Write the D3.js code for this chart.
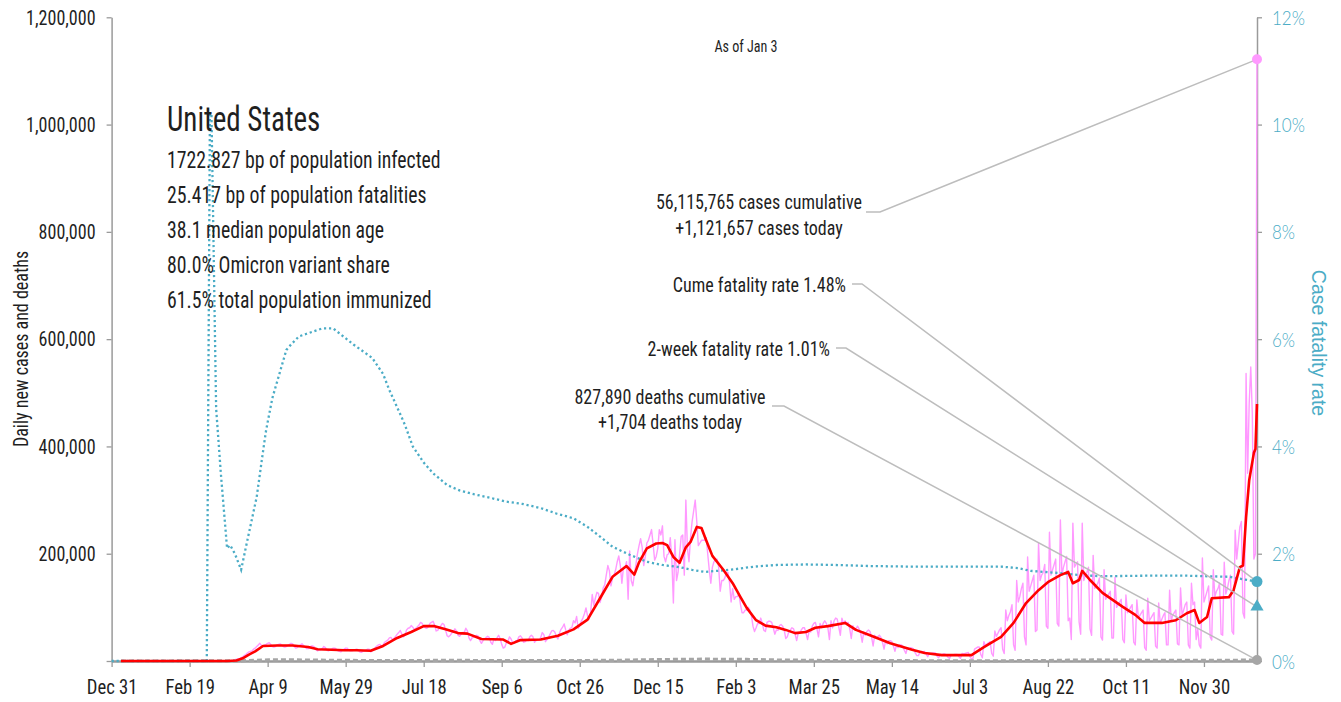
<!DOCTYPE html>
<html>
<head>
<meta charset="utf-8">
<title>United States - daily new cases</title>
<script src="https://cdn.jsdelivr.net/npm/d3@7/dist/d3.min.js"></script>
<style>
    body { margin: 0; background: #fff; }
    svg text { font-family: "Liberation Sans Narrow", "Roboto Condensed", "Roboto", sans-serif; fill: #1f1f1f; }
    .axis path, .axis line { stroke: #9a9a9a; }
    .axis.rate text { font-family: "Lato", "Open Sans", sans-serif; font-weight: 300; fill: #4bacc6; }
    .leader { fill: none; stroke: #bdbdbd; stroke-width: 1.5; }
</style>
</head>
<body>
<div id="graph"></div>
<script>
// daily new cases, thousands, one value per day from casesStart
var casesStart = "2020-03-01";
var cases2020 = [
    0.02, 0.02, 0.03, 0.03, 0.06, 0.1, 0.1, 0.1, 0.2, 0.3, 0.3, 0.4, 0.5, 0.5, 0.5, 0.7, 1.0, 1.5, 2.5, 3.5, 4, 4, 6, 8, 10, 12, 15, 17, 18, 19, 22, // mar
    24, 27, 30, 33, 29, 28, 30, 31, 33, 34, 31, 27, 26, 27, 30, 31, 32, 30, 27, 26, 27, 29, 31, 33, 32, 27, 24, 25, 28, 30, // apr
    32, 29, 26, 23, 23, 25, 28, 28, 26, 21, 19, 21, 21, 23, 27, 25, 20, 19, 21, 22, 24, 24, 22, 19, 18, 17, 20, 22, 24, 24, 20, // may
    19, 19, 20, 21, 22, 21, 17, 16, 18, 19, 20, 22, 22, 17, 19, 22, 25, 28, 30, 31, 26, 30, 35, 37, 39, 43, 44, 40, 42, 46, // jun
    50, 53, 57, 50, 45, 48, 58, 61, 62, 66, 63, 59, 61, 64, 67, 72, 70, 64, 62, 61, 64, 70, 72, 74, 67, 56, 57, 62, 66, 70, 68, // jul
    58, 47, 45, 48, 52, 55, 60, 56, 48, 46, 50, 53, 53, 61, 56, 43, 38, 43, 45, 46, 48, 46, 38, 33, 38, 41, 44, 46, 44, 35, 31, // aug
    41, 38, 43, 48, 42, 31, 24, 26, 34, 37, 45, 41, 34, 33, 38, 38, 45, 47, 43, 35, 36, 39, 38, 45, 48, 45, 35, 38, 40, 39, // sep
    44, 53, 49, 36, 40, 44, 50, 56, 57, 54, 46, 41, 52, 59, 63, 69, 58, 49, 58, 61, 63, 75, 71, 83, 61, 66, 74, 80, 88, 99, 84, // oct
    78, 91, 124, 104, 117, 128, 126, 109, 119, 136, 142, 160, 178, 168, 140, 155, 160, 170, 185, 196, 178, 145, 175, 175, 185, 115, 205, 150, 140, 162, // nov
    180, 200, 215, 228, 212, 178, 195, 220, 225, 235, 245, 218, 188, 195, 210, 245, 235, 252, 195, 185, 198, 200, 230, 190, 108, 226, 150, 165, 200, 232, 235 // dec
];
var cases2021 = [
    160, 300, 210, 185, 230, 260, 280, 300, 260, 215, 220, 225, 225, 225, 230, 200, 170, 145, 175, 185, 190, 190, 175, 130, 150, 150, 155, 165, 165, 145, 110, // jan
    135, 115, 120, 120, 125, 105, 90, 90, 95, 95, 100, 95, 85, 65, 55, 62, 70, 70, 80, 70, 57, 55, 72, 74, 74, 72, 62, 50, // feb
    58, 57, 66, 68, 65, 58, 42, 45, 55, 58, 62, 60, 50, 38, 52, 52, 58, 62, 62, 52, 40, 56, 54, 65, 70, 72, 60, 45, 70, 62, 70, // mar
    75, 70, 62, 40, 75, 62, 75, 80, 78, 63, 48, 80, 70, 75, 70, 72, 60, 42, 66, 58, 60, 65, 60, 52, 35, 54, 48, 55, 58, 55, // apr
    45, 28, 48, 42, 45, 48, 44, 35, 22, 38, 32, 38, 38, 36, 28, 18, 30, 25, 30, 30, 28, 20, 14, 25, 22, 25, 24, 22, 15, 10, 10, // may
    16, 18, 17, 18, 13, 8, 14, 14, 15, 15, 15, 9, 6, 12, 12, 13, 13, 11, 7, 5, 11, 11, 12, 12, 12, 8, 5, 14, 13, 14, // jun
    15, 16, 8, 4, 5, 22, 24, 26, 26, 12, 6, 36, 28, 32, 34, 36, 14, 9, 56, 46, 52, 58, 62, 22, 14, 95, 75, 85, 92, 105, 30, // jul
    20, 150, 110, 120, 135, 145, 45, 30, 194, 130, 140, 150, 160, 55, 58, 220, 150, 160, 165, 180, 65, 61, 240, 160, 170, 180, 190, 70, 65, 263, 160, // aug
    175, 185, 195, 75, 80, 40, 257, 175, 180, 185, 73, 50, 257, 150, 160, 165, 175, 60, 48, 197, 135, 140, 145, 155, 45, 39, 170, 115, 120, 125, // sep
    130, 43, 43, 156, 100, 105, 110, 115, 40, 34, 123, 90, 95, 100, 105, 35, 30, 114, 80, 85, 90, 95, 25, 20, 117, 75, 80, 85, 90, 28, 24, // oct
    108, 70, 78, 85, 90, 30, 30, 132, 75, 85, 90, 95, 32, 30, 136, 85, 95, 105, 110, 30, 24, 145, 105, 110, 40, 60, 30, 24, 192, 110, // nov
    120, 130, 140, 45, 39, 170, 120, 130, 135, 145, 50, 48, 184, 125, 135, 150, 160, 55, 50, 244, 190, 220, 250, 260, 90, 80, 536, 350, 480, 548, 460 // dec
];
var cases2022 = [190, 200, 1121.657];

// 7-day average of new cases, thousands
var avgCases = [
    ["2020-01-06", 0], ["2020-03-14", 0], ["2020-03-20", 1], ["2020-03-24", 5], ["2020-03-28", 12],
    ["2020-04-01", 18], ["2020-04-06", 28], ["2020-04-15", 29], ["2020-04-25", 29], ["2020-05-05", 26],
    ["2020-05-11", 22], ["2020-05-20", 21], ["2020-05-28", 20], ["2020-06-05", 20], ["2020-06-14", 19],
    ["2020-06-22", 28], ["2020-07-01", 43], ["2020-07-10", 54], ["2020-07-18", 65], ["2020-07-25", 65],
    ["2020-08-01", 59], ["2020-08-09", 52], ["2020-08-15", 51], ["2020-08-24", 41], ["2020-09-07", 40],
    ["2020-09-12", 32], ["2020-09-18", 39], ["2020-10-01", 40], ["2020-10-12", 47], ["2020-10-22", 59],
    ["2020-10-31", 77], ["2020-11-08", 117], ["2020-11-16", 157], ["2020-11-25", 177], ["2020-11-30", 161],
    ["2020-12-03", 184], ["2020-12-08", 210], ["2020-12-14", 219], ["2020-12-18", 220], ["2020-12-21", 216],
    ["2020-12-25", 194], ["2020-12-29", 183], ["2021-01-02", 212], ["2021-01-05", 222], ["2021-01-09", 250],
    ["2021-01-12", 248], ["2021-01-15", 225], ["2021-01-19", 196], ["2021-01-26", 170], ["2021-02-01", 145],
    ["2021-02-06", 119], ["2021-02-10", 99], ["2021-02-16", 76], ["2021-02-22", 66], ["2021-03-01", 63],
    ["2021-03-07", 58], ["2021-03-13", 52], ["2021-03-20", 54], ["2021-03-26", 62], ["2021-04-03", 65],
    ["2021-04-14", 71], ["2021-04-21", 58], ["2021-04-30", 48], ["2021-05-13", 33], ["2021-05-27", 21],
    ["2021-06-04", 15], ["2021-06-15", 11], ["2021-07-04", 11], ["2021-07-12", 26], ["2021-07-23", 45],
    ["2021-07-31", 71], ["2021-08-08", 108], ["2021-08-16", 132], ["2021-08-22", 147], ["2021-08-30", 160],
    ["2021-09-04", 166], ["2021-09-07", 145], ["2021-09-11", 151], ["2021-09-13", 168], ["2021-09-18", 151],
    ["2021-09-26", 127], ["2021-10-09", 101], ["2021-10-17", 86], ["2021-10-23", 71], ["2021-11-03", 71],
    ["2021-11-12", 76], ["2021-11-19", 89], ["2021-11-24", 95], ["2021-11-27", 71], ["2021-12-02", 82],
    ["2021-12-05", 117], ["2021-12-16", 119], ["2021-12-19", 132], ["2021-12-23", 175], ["2021-12-25", 178],
    ["2021-12-27", 268], ["2021-12-29", 337], ["2022-01-01", 388], ["2022-01-02", 395], ["2022-01-03", 479]
];

// case fatality rate, percent (right axis)
var fatalityRate = [
    ["2019-12-31", 0], ["2020-03-01", 0], ["2020-03-03", 10.2], ["2020-03-04", 10.2], ["2020-03-05", 8.4],
    ["2020-03-06", 6.5], ["2020-03-07", 4.7], ["2020-03-10", 3.5], ["2020-03-12", 2.8], ["2020-03-14", 2.1],
    ["2020-03-16", 2.16], ["2020-03-19", 2.0], ["2020-03-23", 1.7], ["2020-03-27", 2.25], ["2020-04-02", 3.06],
    ["2020-04-06", 3.9], ["2020-04-08", 4.3], ["2020-04-12", 4.9], ["2020-04-17", 5.4], ["2020-04-21", 5.8],
    ["2020-04-24", 5.9], ["2020-04-29", 6.05], ["2020-05-04", 6.1], ["2020-05-14", 6.2], ["2020-05-21", 6.2],
    ["2020-06-03", 5.9], ["2020-06-15", 5.65], ["2020-06-22", 5.35], ["2020-06-26", 5.05], ["2020-07-03", 4.6],
    ["2020-07-06", 4.4], ["2020-07-11", 4.0], ["2020-07-18", 3.7], ["2020-07-24", 3.5], ["2020-08-02", 3.28],
    ["2020-08-10", 3.18], ["2020-08-19", 3.11], ["2020-08-30", 3.04], ["2020-09-09", 2.97], ["2020-09-19", 2.93],
    ["2020-10-01", 2.85], ["2020-10-11", 2.75], ["2020-10-22", 2.66], ["2020-10-31", 2.5], ["2020-11-08", 2.32],
    ["2020-11-16", 2.13], ["2020-11-27", 1.98], ["2020-12-08", 1.85], ["2020-12-18", 1.79], ["2020-12-29", 1.75],
    ["2021-01-06", 1.7], ["2021-01-14", 1.66], ["2021-01-22", 1.68], ["2021-02-02", 1.71], ["2021-02-15", 1.76],
    ["2021-03-01", 1.79], ["2021-03-20", 1.8], ["2021-04-08", 1.79], ["2021-04-30", 1.77], ["2021-05-26", 1.76],
    ["2021-06-23", 1.76], ["2021-07-23", 1.76], ["2021-08-03", 1.73], ["2021-08-11", 1.68], ["2021-08-29", 1.64],
    ["2021-09-12", 1.6], ["2021-09-26", 1.58], ["2021-10-23", 1.59], ["2021-11-19", 1.59], ["2021-12-16", 1.57],
    ["2022-01-03", 1.48]
];

// daily deaths, thousands
var deaths = [
    ["2020-01-06", 0], ["2020-03-20", 0.1], ["2020-04-10", 2.0], ["2020-04-25", 2.0], ["2020-05-20", 1.3],
    ["2020-06-20", 0.6], ["2020-07-30", 1.1], ["2020-09-15", 0.8], ["2020-10-20", 0.75], ["2020-11-20", 1.3],
    ["2020-12-15", 2.6], ["2021-01-13", 3.4], ["2021-02-10", 2.9], ["2021-03-01", 1.9], ["2021-04-01", 0.9],
    ["2021-06-01", 0.5], ["2021-07-10", 0.25], ["2021-08-15", 0.7], ["2021-09-20", 2.0], ["2021-10-15", 1.5],
    ["2021-11-15", 1.1], ["2021-12-15", 1.3], ["2022-01-03", 1.704]
];

var tickDates = ["2019-12-31", "2020-02-19", "2020-04-09", "2020-05-29", "2020-07-18", "2020-09-06", "2020-10-26",
    "2020-12-15", "2021-02-03", "2021-03-25", "2021-05-14", "2021-07-03", "2021-08-22", "2021-10-11", "2021-11-30"];
var caseTicks = [0, 200, 400, 600, 800, 1000, 1200];
var rateTicks = [0, 2, 4, 6, 8, 10, 12];

var countryName = "United States";
var countryStats = ["1722.827 bp of population infected", "25.417 bp of population fatalities",
    "38.1 median population age", "80.0% Omicron variant share", "61.5% total population immunized"];
var asOfLabel = "As of Jan 3";
var casesToday = 1121.657, deathsToday = 1.704, cumeRate = 1.48, twoWeekRate = 1.01;
var casesNote = ["56,115,765 cases cumulative", "+1,121,657 cases today"];
var cumeNote = "Cume fatality rate 1.48%";
var twoWeekNote = "2-week fatality rate 1.01%";
var deathsNote = ["827,890 deaths cumulative", "+1,704 deaths today"];

var graph = (function () {
    var width = 1341, height = 702,
        plot = {left: 111.6, right: 1257, top: 17.3, bottom: 661},
        narrow = 0.86; // horizontal squeeze so the condensed face looks taller

    var svg = d3.select("#graph").append("svg")
        .attr("width", width)
        .attr("height", height);

    var parseDay = d3.utcParse("%Y-%m-%d");

    var x = d3.scaleUtc()
        .domain([parseDay("2019-12-31"), parseDay("2022-01-03")])
        .range([plot.left, plot.right]);
    var y = d3.scaleLinear().domain([0, 1200]).range([plot.bottom, plot.top]);
    var yRate = d3.scaleLinear().domain([0, 12]).range([plot.bottom, plot.top]);

    function dailySeries() {
        var start = parseDay(casesStart);
        return cases2020.concat(cases2021, cases2022).map(function (v, i) {
            return {date: d3.utcDay.offset(start, i), value: v};
        });
    }

    function pairs(list) {
        return list.map(function (d) {
            return {date: parseDay(d[0]), value: d[1]};
        });
    }

    // condensed text placed at (tx, ty)
    function label(tx, ty, str, size, anchor, squeeze) {
        return svg.append("text")
            .attr("transform", "translate(" + tx + "," + ty + ") scale(" + (squeeze || narrow) + ",1)")
            .attr("text-anchor", anchor || "start")
            .attr("font-size", size)
            .text(str);
    }

    function squeezeTicks(g, dx, squeeze) {
        g.selectAll(".tick text")
            .attr("x", null)
            .attr("transform", "translate(" + dx + ",0) scale(" + (squeeze || narrow) + ",1)");
    }

    function create() {
        // axes
        var xAxis = d3.axisBottom(x)
            .tickValues(tickDates.map(parseDay))
            .tickFormat(d3.utcFormat("%b %-d"))
            .tickSize(6).tickSizeOuter(0).tickPadding(12);
        var yAxis = d3.axisLeft(y)
            .tickValues(caseTicks)
            .tickFormat(function (d) {
                return d === 0 ? "" : d3.format(",")(d * 1000);
            })
            .tickSize(5).tickSizeOuter(0);
        var yRateAxis = d3.axisRight(yRate)
            .tickValues(rateTicks)
            .tickFormat(function (d) {
                return d + "%";
            })
            .tickSize(5).tickSizeOuter(0);

        var gy = svg.append("g")
            .attr("class", "y axis")
            .attr("transform", "translate(" + plot.left + ",0)")
            .call(yAxis);
        var gr = svg.append("g")
            .attr("class", "y rate axis")
            .attr("transform", "translate(" + plot.right + ",0)")
            .call(yRateAxis);
        var gx = svg.append("g")
            .attr("class", "x axis")
            .attr("transform", "translate(0," + plot.bottom + ")")
            .call(xAxis);

        gy.select(".domain").attr("stroke-width", 1.5);
        gr.select(".domain").attr("stroke-width", 1.5);
        gx.select(".domain").attr("stroke-width", 2.5);
        svg.selectAll(".axis line").attr("stroke-width", 1.3);
        gy.selectAll("text").attr("font-size", 21).attr("fill", "#262626");
        gx.selectAll("text").attr("font-size", 21).attr("fill", "#262626");
        gr.selectAll("text").attr("font-size", 19.5).attr("dy", "0.36em");
        squeezeTicks(gy, -16, 0.86);
        squeezeTicks(gx, 0, 0.89);
        squeezeTicks(gr, 15, 0.87);

        // axis titles
        svg.append("text")
            .attr("transform", "translate(28,349) rotate(-90) scale(0.9,1)")
            .attr("text-anchor", "middle")
            .attr("font-size", 20)
            .text("Daily new cases and deaths");

        svg.append("text")
            .attr("transform", "translate(1312,343) rotate(90)")
            .attr("text-anchor", "middle")
            .attr("font-size", 19.5)
            .style("font-family", "'Liberation Sans', Arial, sans-serif")
            .style("fill", "#4bacc6")
            .text("Case fatality rate");

        // curves
        var lineCases = d3.line()
            .x(function (d) { return x(d.date); })
            .y(function (d) { return y(d.value); });
        var lineRate = d3.line()
            .x(function (d) { return x(d.date); })
            .y(function (d) { return yRate(d.value); });

        svg.append("path")
            .attr("class", "line cases daily")
            .attr("d", lineCases(dailySeries()))
            .attr("fill", "none")
            .attr("stroke", "#ff99ff")
            .attr("stroke-width", 1.4)
            .attr("stroke-linejoin", "round");

        svg.append("path")
            .attr("class", "line deaths")
            .attr("d", lineCases(pairs(deaths)))
            .attr("fill", "none")
            .attr("stroke", "#a6a6a6")
            .attr("stroke-width", 3.2)
            .attr("stroke-dasharray", "5,3");

        svg.append("path")
            .attr("class", "line rate")
            .attr("d", lineRate(pairs(fatalityRate)))
            .attr("fill", "none")
            .attr("stroke", "#4bacc6")
            .attr("stroke-width", 2.3)
            .attr("stroke-dasharray", "2.2,2.8");

        svg.append("path")
            .attr("class", "line cases avg")
            .attr("d", lineCases(pairs(avgCases)))
            .attr("fill", "none")
            .attr("stroke", "#ff0000")
            .attr("stroke-width", 2.6)
            .attr("stroke-linejoin", "round");

        // country box
        label(167, 131, countryName, 35, "start", 0.83).attr("fill", "#000");
        countryStats.forEach(function (d, i) {
            label(167, 168 + i * 35, d, 23, "start", 0.86);
        });
        label(746, 52, asOfLabel, 17, "middle", 0.83);

        // annotations with leader lines to the end markers
        var xEnd = x(parseDay("2022-01-03"));
        var leader = d3.line();
        var notes = [
            {pts: [[866, 212], [880, 212], [xEnd, y(casesToday)]]},
            {pts: [[852, 284], [862, 284], [xEnd, yRate(cumeRate)]]},
            {pts: [[836, 348], [846, 348], [xEnd, yRate(twoWeekRate)]]},
            {pts: [[772, 406], [784, 406], [xEnd, y(deathsToday)]]}
        ];
        svg.selectAll("path.leader")
            .data(notes)
            .enter().append("path")
            .attr("class", "leader")
            .attr("d", function (d) { return leader(d.pts); });

        casesNote.forEach(function (d, i) {
            label(759, 209 + i * 26, d, 20.5, "middle", 0.88);
        });
        label(846, 292, cumeNote, 20.5, "end", 0.88);
        label(830, 356, twoWeekNote, 20.5, "end", 0.88);
        deathsNote.forEach(function (d, i) {
            label(670, 404 + i * 25, d, 20.5, "middle", 0.88);
        });

        // end markers
        svg.append("circle")
            .attr("cx", xEnd).attr("cy", y(casesToday)).attr("r", 5)
            .attr("fill", "#ff99ff");
        svg.append("circle")
            .attr("cx", xEnd).attr("cy", yRate(cumeRate)).attr("r", 5.5)
            .attr("fill", "#4bacc6");
        svg.append("path")
            .attr("d", d3.symbol().type(d3.symbolTriangle).size(75)())
            .attr("transform", "translate(" + xEnd + "," + yRate(twoWeekRate) + ")")
            .attr("fill", "#4bacc6");
        svg.append("circle")
            .attr("cx", xEnd).attr("cy", y(deathsToday)).attr("r", 5)
            .attr("fill", "#a6a6a6");
    }

    return {
        create: create
    };
})();

graph.create();
</script>
</body>
</html>
